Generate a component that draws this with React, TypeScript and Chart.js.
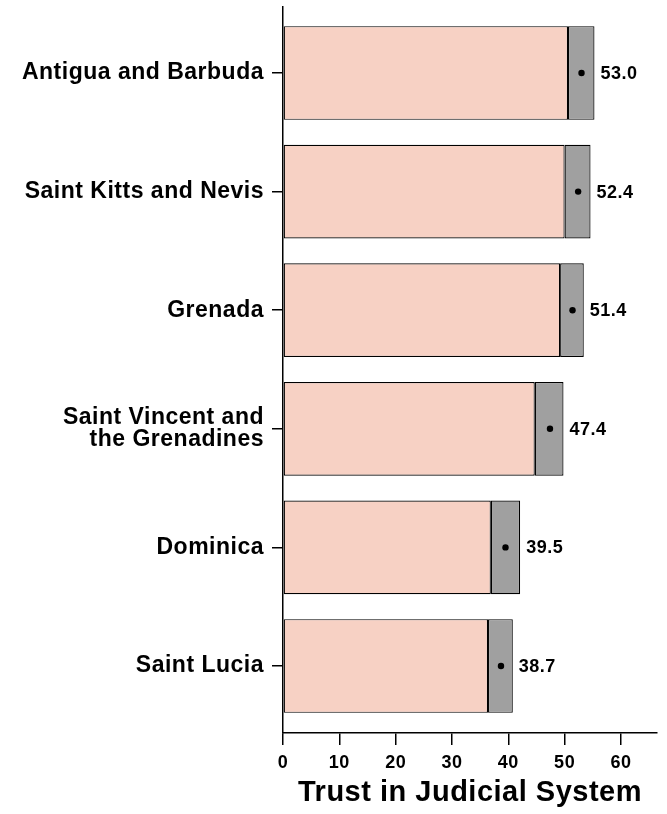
import React, { useEffect, useRef } from 'react';
import { Chart, registerables } from 'chart.js';

Chart.register(...registerables);

const countries: (string | string[])[] = [
  'Antigua and Barbuda',
  'Saint Kitts and Nevis',
  'Grenada',
  ['Saint Vincent and', 'the Grenadines'],
  'Dominica',
  'Saint Lucia',
];
const means = [53.0, 52.4, 51.4, 47.4, 39.5, 38.7];
const lowerCI = [50.6, 50.0, 49.2, 44.7, 36.9, 36.4];
const upperCI = [55.3, 54.6, 53.4, 49.8, 42.1, 40.8];
const xTicks = [0, 10, 20, 30, 40, 50, 60];
const xTitle = 'Trust in Judicial System';

const FONT = "'Liberation Sans', Arial, Helvetica, sans-serif";

const spacing = {
  id: 'spacing',
  beforeDraw(chart: any) {
    try {
      (chart.ctx as any).letterSpacing = '0.5px';
    } catch (e) {}
  },
};

const valueLabels = {
  id: 'valueLabels',
  afterDatasetsDraw(chart: any) {
    const { ctx, scales } = chart;
    const x = scales.x;
    const y = scales.y;
    ctx.save();
    ctx.font = `bold 18px ${FONT}`;
    ctx.fillStyle = '#000';
    ctx.textAlign = 'left';
    ctx.textBaseline = 'middle';
    means.forEach((m, i) => {
      ctx.fillText(m.toFixed(1), x.getPixelForValue(upperCI[i]) + 6, y.getPixelForValue(i) + 1);
    });
    ctx.restore();
  },
};

export default function App() {
  const ref = useRef<HTMLCanvasElement | null>(null);

  useEffect(() => {
    if (!ref.current) return;
    const chart = new Chart(ref.current, {
      type: 'bar',
      data: {
        datasets: [
          {
            type: 'bar',
            label: 'base',
            data: lowerCI.map((lo, i) => ({ x: [0, lo], y: i })) as any,
            backgroundColor: '#F7D1C4',
            borderColor: '#000',
            borderWidth: 1.2,
            borderSkipped: false,
            grouped: false,
            barPercentage: 0.79,
            categoryPercentage: 1,
            order: 2,
          } as any,
          {
            type: 'bar',
            label: 'ci',
            data: lowerCI.map((lo, i) => ({ x: [lo, upperCI[i]], y: i })) as any,
            backgroundColor: '#A0A0A0',
            borderColor: '#000',
            borderWidth: 1.2,
            borderSkipped: false,
            grouped: false,
            barPercentage: 0.79,
            categoryPercentage: 1,
            order: 1,
          } as any,
          {
            type: 'scatter',
            label: 'mean',
            data: means.map((m, i) => ({ x: m, y: i })),
            backgroundColor: '#000',
            borderColor: '#000',
            borderWidth: 0,
            pointRadius: 3.2,
            order: 0,
          } as any,
        ],
      },
      options: {
        indexAxis: 'y',
        responsive: false,
        animation: false,
        layout: { padding: { top: 7, right: 10, left: 0, bottom: 0 } },
        plugins: {
          legend: { display: false },
          tooltip: { enabled: false },
        },
        scales: {
          x: {
            type: 'linear',
            position: 'bottom',
            min: 0,
            max: 66.4,
            offset: false,
            afterBuildTicks: (s: any) => {
              s.ticks = xTicks.map((v) => ({ value: v }));
            },
            afterFit: (s: any) => {
              s.height = 81;
              s.paddingLeft = 0;
              s.paddingRight = 0;
            },
            grid: { offset: false, drawOnChartArea: false, drawTicks: true, tickLength: 12, color: '#000', lineWidth: 1.5 },
            border: { display: true, color: '#000', width: 1.5 },
            ticks: {
              color: '#000',
              font: { family: FONT, size: 18, weight: 'bold' },
              padding: 7,
              maxRotation: 0,
              autoSkip: false,
            },
            title: {
              display: true,
              text: xTitle,
              color: '#000',
              font: { family: FONT, size: 29, weight: 'bold' },
              padding: { top: 0, bottom: 4 },
            },
          },
          y: {
            type: 'linear',
            reverse: true,
            min: -0.5565,
            max: 5.565,
            offset: false,
            afterBuildTicks: (s: any) => {
              s.ticks = countries.map((_, i) => ({ value: i }));
            },
            afterFit: (s: any) => {
              s.width = 283;
              s.paddingTop = 0;
              s.paddingBottom = 0;
            },
            grid: { offset: false, drawOnChartArea: false, drawTicks: true, tickLength: 11, color: '#000', lineWidth: 1.5 },
            border: { display: true, color: '#000', width: 1.5 },
            ticks: {
              color: '#000',
              font: { family: FONT, size: 23, weight: 'bold', lineHeight: 0.95 },
              padding: 8,
              autoSkip: false,
              callback: (v: any) => countries[Number(v)] as any,
            },
          },
        },
      } as any,
      plugins: [spacing, valueLabels],
    });
    return () => chart.destroy();
  }, []);

  return (
    <div style={{ position: 'fixed', left: 0, top: 0, width: 667, height: 814, background: '#fff' }}>
      <canvas ref={ref} width={667} height={814} style={{ display: 'block' }} />
    </div>
  );
}
